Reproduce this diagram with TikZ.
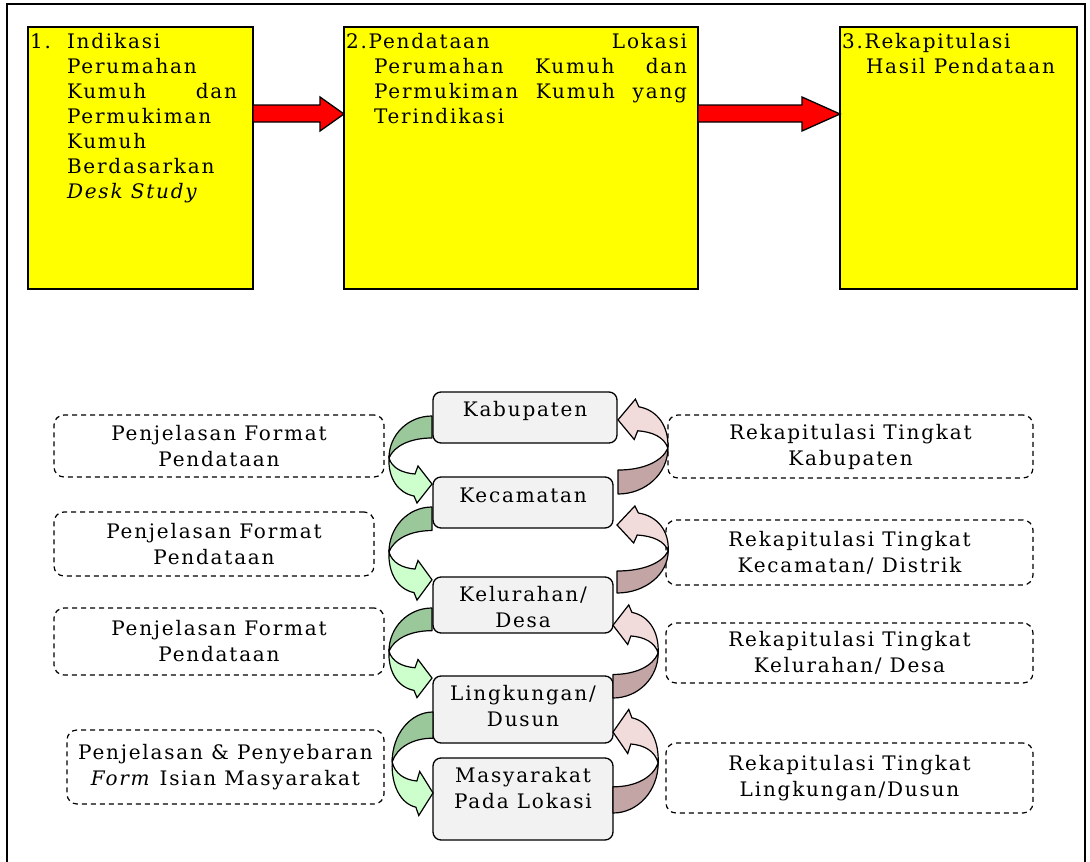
\documentclass[tikz,border=0pt]{standalone}
\usepackage{fontspec}
\setmainfont{DejaVu Serif}[LetterSpace=9]
\usetikzlibrary{calc}
\definecolor{ylw}{RGB}{255,255,0}
\definecolor{gdark}{RGB}{155,200,155}
\definecolor{glight}{RGB}{204,255,204}
\definecolor{pdark}{RGB}{195,165,165}
\definecolor{plight}{RGB}{242,220,219}
\definecolor{lvlgray}{RGB}{242,242,242}
\newcommand{\mainfs}{\fontsize{20}{25}\selectfont}
\newcommand{\lowfs}{\fontsize{20}{26}\selectfont}
\newcommand{\twistarrow}[5]{%
 \begin{scope}[shift={(#1)}, xscale=#2, yscale=#3]
  \draw[#4] (0,0) .. controls (24,0) and (43,19) .. (43,42) .. controls (38,30) and (22,22) .. (0,22) -- cycle;
  \draw[#5] (43,42) .. controls (44,62) and (34,77) .. (18,80) -- (15,87) -- (0,68) -- (14,50) -- (17,58) .. controls (30,57) and (40,52) .. (43,42) -- cycle;
 \end{scope}}
\begin{document}
\begin{tikzpicture}[x=1pt,y=1pt,
  frame/.style={draw, line width=1.6},
  ybox/.style={draw, fill=ylw, line width=1.5, rectangle, inner sep=0, outer sep=0},
  redarrow/.style={draw, fill=red, line width=1.3, line join=miter},
  tl/.style={inner sep=0, outer sep=0, anchor=base west, font=\mainfs},
  lvl/.style={draw, fill=lvlgray, line width=1.3, rounded corners=8, inner sep=0, outer sep=0},
  lvltxt/.style={inner sep=0, anchor=north, align=center, font=\lowfs},
  dbox/.style={draw, dashed, dash pattern=on 5pt off 4pt, line width=1.2, rounded corners=10, align=center, inner sep=0, font=\lowfs},
  gd/.style={draw, fill=gdark, line width=1.2, line join=round},
  gl/.style={draw, fill=glight, line width=1.2, line join=miter},
  pd/.style={draw, fill=pdark, line width=1.2, line join=round},
  pl/.style={draw, fill=plight, line width=1.2, line join=miter}]
\useasboundingbox (0,0) rectangle (1090,-862);
\fill[white] (0,0) rectangle (1090,-862);
\draw[frame] (7,-4) rectangle (1085,-880);

% top boxes
\node[ybox, minimum width=225, minimum height=262] (b1) at (140.5,-158) {};
\node[ybox, minimum width=354, minimum height=262] (b2) at (521,-158) {};
\node[ybox, minimum width=237, minimum height=262] (b3) at (958.5,-158) {};

% box 1 text
\node[tl] (n1) at (30,-48) {1.};
\node[tl] (t1a) at (67,-48) {Indikasi};
\node[tl] (t1b) at (67,-73) {Perumahan};
\node[tl] (t1c) at (67,-98) {\makebox[170pt][l]{Kumuh\hfill dan}};
\node[tl] (t1d) at (67,-123) {Permukiman};
\node[tl] (t1e) at (67,-148) {Kumuh};
\node[tl] (t1f) at (67,-173) {Berdasarkan};
\node[tl] (t1g) at (67,-198) {\textit{Desk Study}};
% box 2 text
\node[tl] (t2a) at (346,-48) {\makebox[341pt][l]{2.Pendataan\hfill Lokasi}};
\node[tl] (t2b) at (374,-73) {\makebox[313pt][l]{Perumahan\hfill Kumuh\hfill dan}};
\node[tl] (t2c) at (374,-98) {\makebox[313pt][l]{Permukiman\hfill Kumuh\hfill yang}};
\node[tl] (t2d) at (374,-123) {Terindikasi};
% box 3 text
\node[tl] (t3a) at (842,-48) {3.Rekapitulasi};
\node[tl] (t3b) at (866,-73) {Hasil Pendataan};

% red arrows
\draw[redarrow] (b1.east |- 0,-105) -- (320,-105) -- (320,-97) -- (b2.west |- 0,-114) -- (320,-131) -- (320,-122) -- (b1.east |- 0,-122) -- cycle;
\draw[redarrow] (b2.east |- 0,-105) -- (802,-105) -- (802,-97) -- (b3.west |- 0,-114) -- (802,-131) -- (802,-122) -- (b2.east |- 0,-122) -- cycle;

% level boxes
\node[lvl, minimum width=184, minimum height=51] (kab) at (525,-417.5) {};
\node[lvl, minimum width=180, minimum height=51] (kec) at (523,-502.5) {};
\node[lvl, minimum width=180, minimum height=56] (kel) at (523,-605) {};
\node[lvl, minimum width=180, minimum height=67] (lin) at (523,-709.5) {};
\node[lvl, minimum width=180, minimum height=82] (mas) at (523,-799) {};
\node[lvltxt, yshift=-9.5] (kabt) at (kab.north) {Kabupaten};
\node[lvltxt, yshift=-10.5] (kect) at (kec.north) {Kecamatan};
\node[lvltxt, yshift=-9.5] (kelt) at (kel.north) {Kelurahan/\\Desa};
\node[lvltxt, yshift=-9] (lint) at (lin.north) {Lingkungan/\\Dusun};
\node[lvltxt, yshift=-9.5] (mast) at (mas.north) {Masyarakat\\Pada Lokasi};

% dashed boxes left
\node[dbox, minimum width=330, minimum height=62] (l1) at (219,-446) {Penjelasan Format\\Pendataan};
\node[dbox, minimum width=320, minimum height=64] (l2) at (214,-544) {Penjelasan Format\\Pendataan};
\node[dbox, minimum width=330, minimum height=67] (l3) at (219,-641.5) {Penjelasan Format\\Pendataan};
\node[dbox, minimum width=317, minimum height=74] (l4) at (225.5,-767) {Penjelasan \& Penyebaran\\\textit{Form} Isian Masyarakat};
% dashed boxes right
\node[dbox, minimum width=365, minimum height=63] (r1) at (850.5,-446.5) {Rekapitulasi Tingkat\\Kabupaten};
\node[dbox, minimum width=367, minimum height=65] (r2) at (849.5,-552.5) {Rekapitulasi Tingkat\\Kecamatan/ Distrik};
\node[dbox, minimum width=367, minimum height=60] (r3) at (849.5,-653) {Rekapitulasi Tingkat\\Kelurahan/ Desa};
\node[dbox, minimum width=367, minimum height=70] (r4) at (849.5,-778) {Rekapitulasi Tingkat\\Lingkungan/Dusun};

% twisted curved arrows (green: downward on the left)
\twistarrow{432,-416}{-1}{-1}{gd}{gl}
\twistarrow{432,-507}{-1}{-1.07}{gd}{gl}
\twistarrow{432,-608}{-1}{-1.03}{gd}{gl}
\twistarrow{433,-712}{-0.95}{-1.19}{gd}{gl}
% pink: upward on the right
\twistarrow{618,-494}{1.16}{1.09}{pd}{pl}
\twistarrow{617,-593}{1.19}{1.0}{pd}{pl}
\twistarrow{613,-698}{1.05}{1.07}{pd}{pl}
\twistarrow{613,-813}{1.05}{1.19}{pd}{pl}
\end{tikzpicture}
\end{document}
